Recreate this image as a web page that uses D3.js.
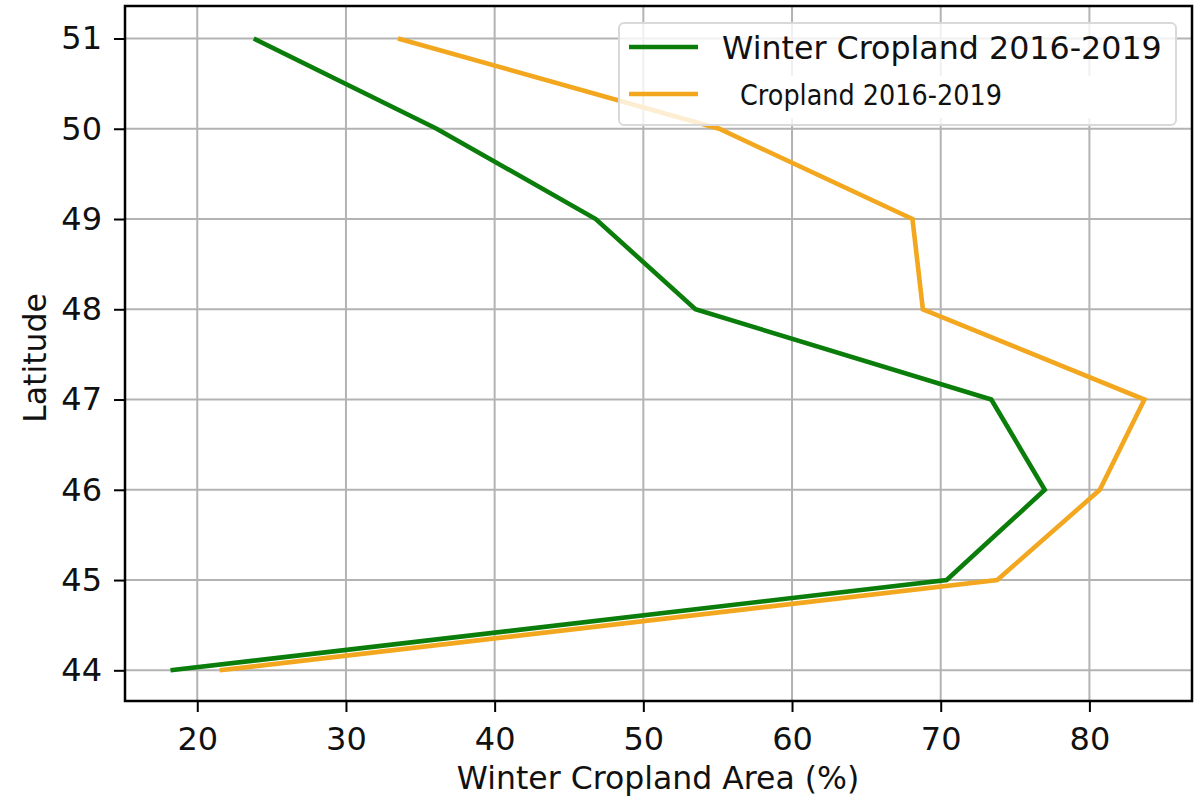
<!DOCTYPE html>
<html>
<head>
<meta charset="utf-8">
<script src="https://cdn.jsdelivr.net/npm/d3@7/dist/d3.min.js"></script>
<style>
  html, body { margin: 0; padding: 0; background: #fff; }
  svg { display: block; }
  text { font-family: "DejaVu Sans", sans-serif; fill: #111; }
</style>
</head>
<body>
<svg id="chart" width="1201" height="802"></svg>
<script>
// Latitude bands (degrees N)
const latitudes = [51, 50, 49, 48, 47, 46, 45, 44];
// Share of area per latitude band (%)
const winterCropland = [23.8, 36.1, 46.8, 53.5, 73.4, 77.0, 70.4, 18.2];
const cropland = [33.5, 55.1, 68.1, 68.8, 83.7, 80.7, 73.8, 21.5];
const xTicks = [20, 30, 40, 50, 60, 70, 80];
const yTicks = [44, 45, 46, 47, 48, 49, 50, 51];
const seriesNames = ["Winter Cropland 2016-2019", "Cropland 2016-2019"];

const svg = d3.select("#chart");
const plot = { left: 125, top: 6, right: 1192, bottom: 701 };

const x = d3.scaleLinear().domain([15.14, 86.9]).range([plot.left, plot.right]);
const y = d3.scaleLinear().domain([43.66, 51.36]).range([plot.bottom, plot.top]);

// grid
const grid = svg.append("g").attr("stroke", "#b3b3b3").attr("stroke-width", 2);
grid.selectAll(".gx").data(xTicks).join("line")
  .attr("x1", d => x(d)).attr("x2", d => x(d))
  .attr("y1", plot.top).attr("y2", plot.bottom);
grid.selectAll(".gy").data(yTicks).join("line")
  .attr("y1", d => y(d)).attr("y2", d => y(d))
  .attr("x1", plot.left).attr("x2", plot.right);

// series lines
const line = d3.line().x(d => x(d[0])).y(d => y(d[1]));
const series = [
  { name: seriesNames[0], color: "#0a7d0a", values: winterCropland },
  { name: seriesNames[1], color: "#f2a71e", values: cropland }
];
svg.append("g").selectAll("path").data(series).join("path")
  .attr("fill", "none")
  .attr("stroke", d => d.color)
  .attr("stroke-width", 4.6)
  .attr("stroke-linejoin", "miter")
  .attr("d", d => line(d.values.map((v, i) => [v, latitudes[i]])));

// axes
const xAxis = d3.axisBottom(x).tickValues(xTicks).tickSize(11).tickPadding(15).tickFormat(d3.format("d"));
const yAxis = d3.axisLeft(y).tickValues(yTicks).tickSize(11).tickPadding(12).tickFormat(d3.format("d"));

const gx = svg.append("g").attr("transform", `translate(0,${plot.bottom})`).call(xAxis);
const gy = svg.append("g").attr("transform", `translate(${plot.left},0)`).call(yAxis);
[gx, gy].forEach(g => {
  g.select(".domain").remove();
  g.selectAll(".tick line").attr("stroke", "#000").attr("stroke-width", 2);
  g.selectAll(".tick text").attr("font-size", 32).attr("fill", "#111")
    .attr("font-family", "DejaVu Sans, sans-serif");
});
gx.selectAll(".tick text").attr("dy", null).attr("y", 11 + 15 + 23);

// frame
svg.append("rect")
  .attr("x", plot.left).attr("y", plot.top)
  .attr("width", plot.right - plot.left).attr("height", plot.bottom - plot.top)
  .attr("fill", "none").attr("stroke", "#000").attr("stroke-width", 2.5);

// axis titles
svg.append("text")
  .attr("x", 658).attr("y", 789)
  .attr("text-anchor", "middle").attr("font-size", 31.5)
  .text("Winter Cropland Area (%)");
svg.append("text")
  .attr("transform", `translate(46,358) rotate(-90)`)
  .attr("text-anchor", "middle").attr("font-size", 31.5)
  .text("Latitude");

// legend
const legend = svg.append("g");
legend.append("rect")
  .attr("x", 619).attr("y", 23).attr("width", 557).attr("height", 102)
  .attr("rx", 5).attr("fill", "#fff").attr("fill-opacity", 0.8)
  .attr("stroke", "#d9d9d9").attr("stroke-width", 2);
legend.append("rect")
  .attr("x", 726).attr("y", 76).attr("width", 440).attr("height", 42)
  .attr("fill", "#fff");
const items = legend.selectAll(".item").data(series).join("g")
  .attr("transform", (d, i) => `translate(0,${i === 0 ? 47 : 94})`);
items.append("line")
  .attr("x1", 629).attr("x2", 698).attr("y1", 0).attr("y2", 0)
  .attr("stroke", d => d.color).attr("stroke-width", 4.6);
items.filter((d, i) => i === 0).append("text")
  .attr("x", 722).attr("y", 12)
  .attr("font-size", 31.7)
  .attr("fill", "#111")
  .text(d => d.name);
items.filter((d, i) => i === 1).append("text")
  .attr("x", 740).attr("y", 11)
  .attr("font-size", 28.5)
  .attr("font-family", "Lato, 'Open Sans', sans-serif")
  .attr("textLength", 262).attr("lengthAdjust", "spacingAndGlyphs")
  .attr("fill", "#111")
  .text(d => d.name);
</script>
</body>
</html>
